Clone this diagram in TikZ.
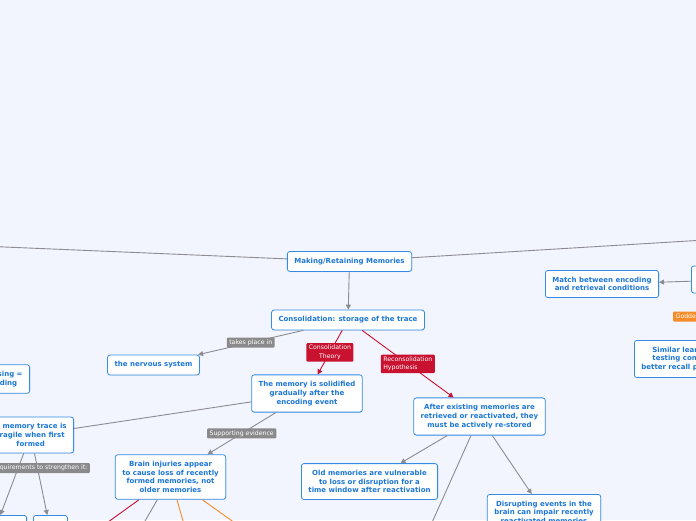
\documentclass[tikz,border=0pt]{standalone}
\usepackage{fontspec}
\setmainfont{DejaVu Sans}
\usetikzlibrary{arrows.meta,shadows}
\definecolor{mmbg}{RGB}{242,245,254}
\definecolor{mmblue}{RGB}{52,140,228}
\definecolor{mmtext}{RGB}{28,118,214}
\definecolor{mmgray}{RGB}{140,140,146}
\definecolor{labgray}{RGB}{138,138,140}
\definecolor{mmred}{RGB}{200,18,48}
\definecolor{mmorange}{RGB}{245,140,40}
\begin{document}
\begin{tikzpicture}[x=1pt, y=-1pt, line join=round,
	box/.style={draw=mmblue, fill=white, rounded corners=2.5pt, line width=0.8pt, text=mmtext,
		font=\bfseries\fontsize{7}{8.7}\selectfont, align=center, inner xsep=7pt, inner ysep=6.5pt,
		drop shadow={opacity=0.15, shadow xshift=0.6pt, shadow yshift=-0.6pt}},
	lbl/.style={fill=#1, text=white, rounded corners=1pt, font=\fontsize{6.2}{8.4}\selectfont, inner xsep=2.5pt, inner ysep=2pt},
	link/.style={draw=#1, line width=0.9pt},
	arr/.style={-{Triangle[length=5pt,width=5pt]}}]
	\useasboundingbox (0,0) rectangle (696,520);
	\fill[mmbg] (0,0) rectangle (696,520);
	\clip (0,0) rectangle (696,520);
	\coordinate (0) at (-200,238.4); % слева
	\coordinate (00) at (900,228.2); % справа
	\node[box] (1) at (349.5,261.5) {Making/Retaining Memories};
	\node[box] (2) at (348,320) {Consolidation: storage of the trace};
	\node[box] (3) at (153.5,365) {the nervous system};
	\node[box] (4) at (307,393.5) {The memory is solidified\\gradually after the\\encoding event};
	\node[box] (5) at (479.5,416.5) {After existing memories are\\retrieved or reactivated, they\\must be actively re-stored};
	\node[box] (6) at (369.5,481.5) {Old memories are vulnerable\\to loss or disruption for a\\time window after reactivation};
	\node[box, anchor=north] (7) at (544,494) {Disrupting events in the\\brain can impair recently\\reactivated memories};
	\node[box] (8) at (170.5,477) {Brain injuries appear\\to cause loss of recently\\formed memories, not\\older memories};
	\node[box, anchor=east] (9) at (74,435) {A memory trace is\\fragile when first\\formed};
	\node[box, anchor=east] (10) at (30,379) {Deep processing =\\better encoding};
	\node[box, anchor=north east, minimum width=64pt, minimum height=30pt] (11) at (27,515) {};
	\node[box, anchor=north west, minimum width=34pt, minimum height=30pt] (12) at (33,515) {};
	\node[box] (13) at (602,284) {Match between encoding\\and retrieval conditions};
	\node[box, anchor=west, minimum width=108pt, minimum height=27pt] (14) at (691,279.5) {};
	\node[box, anchor=north west] (15) at (634,340) {Similar learning and\\testing conditions =\\better recall performance};
	\coordinate (16) at (97,530); % вниз
	\coordinate (17) at (141,528);
	\coordinate (18) at (185,528);
	\coordinate (19) at (242,528);
	\coordinate (20) at (430,527);
	\draw[link=mmgray] (0) -- (1);
	\draw[link=mmgray] (00) -- (1);
	\draw[link=mmgray, arr] (1) -- (2);
	\draw[link=mmgray, arr] (2) -- node[lbl=labgray] {takes place in} (3);
	\draw[link=mmred, arr] (2) -- node[lbl=mmred, align=center] {Consolidation\\Theory} (4);
	\draw[link=mmred, arr] (2) -- node[lbl=mmred, align=left] {Reconsolidation\\Hypothesis} (5);
	\draw[link=mmgray] (4) -- (9);
	\draw[link=mmgray, arr] (4) -- node[lbl=labgray] {Supporting evidence} (8);
	\draw[link=mmgray, arr] (5) -- (6);
	\draw[link=mmgray, arr] (5) -- (7);
	\draw[link=mmgray, arr] (5) -- (20);
	\draw[link=mmred, arr] (8) -- (16);
	\draw[link=mmgray, arr] (8) -- (17);
	\draw[link=mmorange, arr] (8) -- (18);
	\draw[link=mmorange, arr] (8) -- (19);
	\draw[link=mmgray, arr] (9) -- (11);
	\draw[link=mmgray, arr] (9) -- (12);
	\draw[link=mmgray, arr] (14) -- (13);
	\draw[link=mmgray, arr] (14) -- (15);
	\node[lbl=labgray, anchor=east] (21) at (90,468) {Requirements to strengthen it:};
	\node[lbl=mmorange, anchor=west] (22) at (673,316.5) {Godden \& Baddeley (1975)};
\end{tikzpicture}
\end{document}
